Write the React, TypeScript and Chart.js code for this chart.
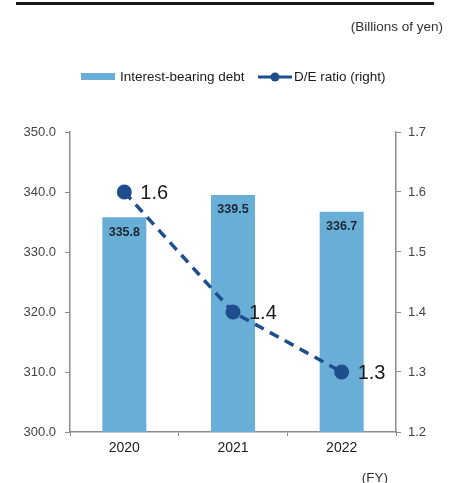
import React, { useEffect, useRef } from "react";
import { Chart, registerables } from "chart.js";

Chart.register(...registerables);

const categories = ["2020", "2021", "2022"];
const debtValues = [335.8, 339.5, 336.7];
const deRatio = [1.6, 1.4, 1.3];
const leftTicks = [300, 310, 320, 330, 340, 350];
const rightTicks = [1.2, 1.3, 1.4, 1.5, 1.6, 1.7];

const BAR_COLOR = "#69AED7";
const LINE_COLOR = "#1F4E8F";
const AXIS_COLOR = "#8C8C8C";
const FONT = "'Liberation Sans', Arial, sans-serif";

const extrasPlugin = {
  id: "extras",
  afterDatasetsDraw(chart: any) {
    const ctx = chart.ctx;
    ctx.save();
    // bar labels
    const barMeta = chart.getDatasetMeta(0);
    ctx.font = `bold 12.5px ${FONT}`;
    ctx.fillStyle = "#1C2633";
    ctx.textAlign = "center";
    ctx.textBaseline = "middle";
    barMeta.data.forEach((el: any, i: number) => {
      ctx.fillText(debtValues[i].toFixed(1), el.x, el.y + 15);
    });
    // line labels
    const lineMeta = chart.getDatasetMeta(1);
    ctx.font = `20px ${FONT}`;
    ctx.fillStyle = "#1A1A1A";
    ctx.textAlign = "left";
    lineMeta.data.forEach((el: any, i: number) => {
      ctx.fillText(deRatio[i].toFixed(1), el.x + 16, el.y + 1);
    });
    ctx.restore();
  },
  afterDraw(chart: any) {
    const ctx = chart.ctx;
    ctx.save();
    // top rule
    ctx.fillStyle = "#1A1A1A";
    ctx.fillRect(16, 2, 418, 3);
    // units
    ctx.font = `13.5px ${FONT}`;
    ctx.fillStyle = "#333";
    ctx.textAlign = "right";
    ctx.textBaseline = "middle";
    ctx.fillText("(Billions of yen)", 443, 27);
    ctx.fillText("(FY)", 388, 478);
    // legend
    ctx.textAlign = "left";
    ctx.fillStyle = BAR_COLOR;
    ctx.fillRect(81, 73, 34, 7);
    ctx.fillStyle = "#1A1A1A";
    ctx.fillText(chart.data.datasets[0].label, 120, 77);
    ctx.strokeStyle = LINE_COLOR;
    ctx.lineWidth = 3;
    ctx.beginPath();
    ctx.moveTo(258, 77);
    ctx.lineTo(292, 77);
    ctx.stroke();
    ctx.fillStyle = LINE_COLOR;
    ctx.beginPath();
    ctx.arc(275, 77, 4.5, 0, Math.PI * 2);
    ctx.fill();
    ctx.fillStyle = "#1A1A1A";
    ctx.fillText(chart.data.datasets[1].label, 294, 77);
    ctx.restore();
  },
};

export default function App() {
  const ref = useRef<HTMLCanvasElement>(null);
  useEffect(() => {
    if (!ref.current) return;
    const chart = new Chart(ref.current, {
      type: "bar",
      data: {
        labels: categories,
        datasets: [
          {
            type: "bar",
            label: "Interest-bearing debt",
            data: debtValues,
            backgroundColor: BAR_COLOR,
            yAxisID: "y",
            barPercentage: 0.405,
            categoryPercentage: 1,
            order: 2,
          },
          {
            type: "line",
            label: "D/E ratio (right)",
            data: deRatio,
            borderColor: LINE_COLOR,
            backgroundColor: LINE_COLOR,
            borderWidth: 3.5,
            borderDash: [10, 7],
            tension: 0,
            pointRadius: 7.5,
            pointBackgroundColor: LINE_COLOR,
            pointBorderWidth: 0,
            yAxisID: "y1",
            order: 1,
          } as any,
        ],
      },
      options: {
        responsive: false,
        animation: false,
        layout: { padding: { top: 132, left: 0, right: 0, bottom: 0 } },
        plugins: { legend: { display: false }, tooltip: { enabled: false } },
        scales: {
          x: {
            grid: { drawOnChartArea: false, color: AXIS_COLOR, tickLength: 4, offset: true },
            border: { color: AXIS_COLOR, width: 1.5 },
            ticks: { color: "#222", font: { family: FONT, size: 14 }, padding: 4 },
            afterFit: (s: any) => { s.height = 51; },
          },
          y: {
            position: "left",
            min: 300,
            max: 350,
            afterBuildTicks: (s: any) => { s.ticks = leftTicks.map((v) => ({ value: v })); },
            grid: { drawOnChartArea: false, color: AXIS_COLOR, tickLength: 5 },
            border: { color: AXIS_COLOR, width: 1.5 },
            ticks: {
              color: "#444",
              font: { family: FONT, size: 13 },
              padding: 9,
              callback: (v: any) => Number(v).toFixed(1),
            },
            afterFit: (s: any) => { s.width = 70; },
          },
          y1: {
            position: "right",
            min: 1.2,
            max: 1.7,
            afterBuildTicks: (s: any) => { s.ticks = rightTicks.map((v) => ({ value: v })); },
            grid: { drawOnChartArea: false, color: AXIS_COLOR, tickLength: 5 },
            border: { color: AXIS_COLOR, width: 1.5 },
            ticks: {
              color: "#444",
              font: { family: FONT, size: 13 },
              padding: 7,
              callback: (v: any) => Number(v).toFixed(1),
            },
            afterFit: (s: any) => { s.width = 55; },
          },
        },
      },
      plugins: [extrasPlugin],
    });
    return () => chart.destroy();
  }, []);
  return (
    <div style={{ position: "absolute", left: 0, top: 0, width: 451, height: 483, background: "#fff" }}>
      <canvas ref={ref} width={451} height={483} style={{ display: "block" }} />
    </div>
  );
}
